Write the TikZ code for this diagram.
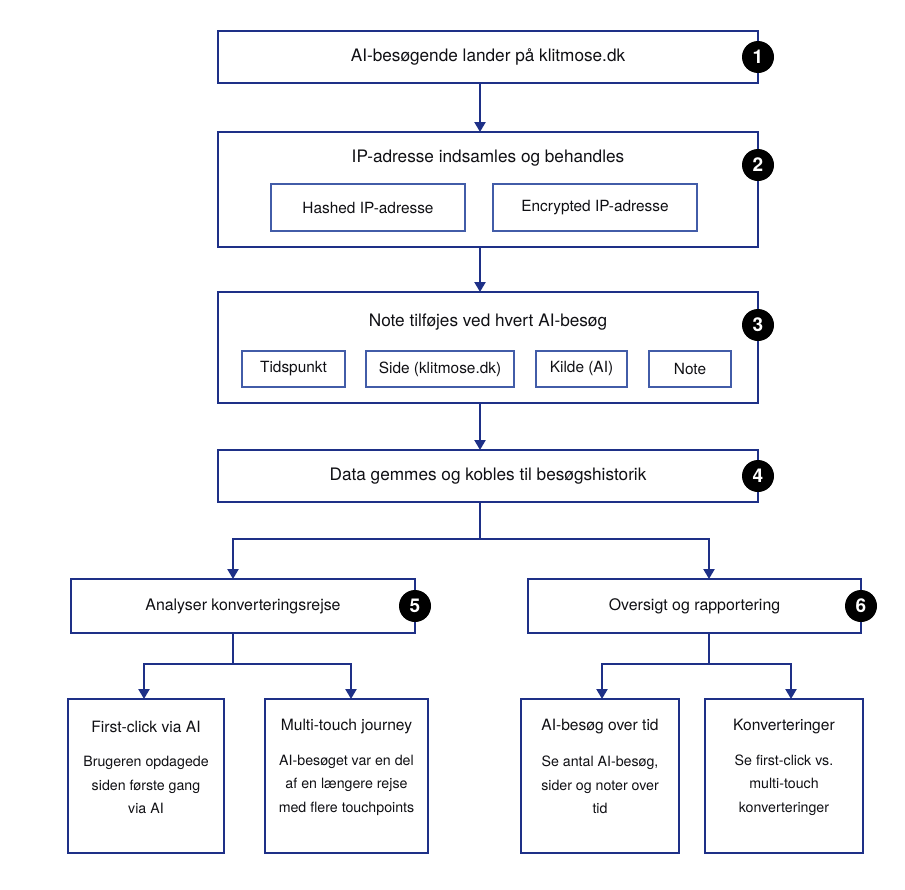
\documentclass[tikz,border=0pt]{standalone}
\usepackage{fontspec}
\setmainfont{TeX Gyre Heros}
\usepackage{xcolor}
\usetikzlibrary{positioning,arrows.meta,calc}
\definecolor{navy}{RGB}{30,48,135}
\definecolor{subnavy}{RGB}{66,92,168}
\definecolor{ink}{RGB}{16,16,20}
\tikzset{%
	block/.style    = {draw=navy, line width=2pt, rectangle, fill=white, text=ink,
		minimum width=540pt, inner sep=0pt, outer sep=0pt, font=\fontsize{17.2}{20.6}\selectfont},
	subblock/.style = {draw=subnavy, line width=1.3pt, rectangle, text=ink,
		minimum height=36pt, inner sep=0pt, outer sep=0pt, font=\fontsize{15.4}{18.5}\selectfont},
	leaf/.style     = {draw=navy, line width=2pt, rectangle, fill=white,
		minimum height=154pt, inner sep=0pt, outer sep=0pt},
	leaftitle/.style = {text=ink, font=\fontsize{15.6}{18.7}\selectfont},
	leafbody/.style  = {text=ink, align=center, font=\fontsize{14.2}{23.5}\selectfont},
	num/.style      = {circle, fill=black, text=white, minimum size=32pt, inner sep=0pt,
		font=\fontsize{19}{19}\selectfont\bfseries},
	link/.style     = {draw=navy, line width=2.3pt}
}

\begin{document}
\begin{tikzpicture}[x=1pt, y=-1pt,
          >={Triangle[length=10pt,width=11pt]}]
        \useasboundingbox (0,0) rectangle (905,889);
        \draw
            node at (488,57) [block, minimum height=52pt, name=land] {AI-besøgende lander på klitmose.dk}
            node [block, minimum height=115pt, below=49pt of land] (ip) {}
            node [block, minimum height=111pt, below=45pt of ip] (note) {}
            node [block, minimum height=52pt, below=47pt of note] (data) {Data gemmes og kobles til besøgshistorik};

            % IP-adresse
            \node [text=ink, font=\fontsize{17.2}{20.6}\selectfont] (iptitle) at ([yshift=-26pt]ip.north) {IP-adresse indsamles og behandles};
            \node [subblock, minimum width=194pt, minimum height=47pt] (hash) at ([xshift=-120pt,yshift=-18pt]ip.center) {Hashed IP-adresse};
            \node [subblock, minimum width=204pt, minimum height=47pt, right=28pt of hash] (enc) {Encrypted IP-adresse};

            % note felter
            \node [text=ink, font=\fontsize{17.2}{20.6}\selectfont] (notetitle) at ([yshift=-30pt]note.north) {Note tilføjes ved hvert AI-besøg};
            \node [subblock, minimum width=103pt] (tid) at ([xshift=-194.5pt,yshift=-21.5pt]note.center) {Tidspunkt};
            \node [subblock, minimum width=148pt, right=21pt of tid] (side) {Side (klitmose.dk)};
            \node [subblock, minimum width=91pt, right=22pt of side] (kilde) {Kilde (AI)};
            \node [subblock, minimum width=82pt, right=22pt of kilde] (notefelt) {Note};

            % analyse og oversigt
            \node [block, minimum width=344pt, minimum height=54pt, font=\fontsize{15.9}{19}\selectfont] (anal) at (243,606) {Analyser konverteringsrejse};
            \node [block, minimum width=333pt, minimum height=54pt, font=\fontsize{15.9}{19}\selectfont] (overs) at (694.5,606) {Oversigt og rapportering};

            \node [leaf, minimum width=156pt] (first) at (146,776) {};
            \node [leaf, minimum width=163pt] (multi) at (346.5,776) {};
            \node [leaf, minimum width=158pt] (tidover) at (600,776) {};
            \node [leaf, minimum width=158pt] (konv) at (784,776) {};

            \node [leaftitle] (firstt) at ([yshift=-28pt]first.north) {First-click via AI};
            \node [leaftitle] (multit) at ([yshift=-28pt]multi.north) {Multi-touch journey};
            \node [leaftitle] (tidovert) at ([yshift=-28pt]tidover.north) {AI-besøg over tid};
            \node [leaftitle] (konvt) at ([yshift=-28pt]konv.north) {Konverteringer};

            \node [leafbody] (firstb) at ([yshift=-86pt]first.north) {Brugeren opdagede\\siden første gang\\via AI};
            \node [leafbody] (multib) at ([yshift=-86pt]multi.north) {AI-besøget var en del\\af en længere rejse\\med flere touchpoints};
            \node [leafbody] (tidoverb) at ([yshift=-86pt]tidover.north) {Se antal AI-besøg,\\sider og noter over\\tid};
            \node [leafbody] (konvb) at ([yshift=-86pt]konv.north) {Se first-click vs.\\multi-touch\\konverteringer};

            \draw[link,->]([xshift=-8pt]land.south) -- ([xshift=-8pt]ip.north);
            \draw[link,->]([xshift=-8pt]ip.south) -- ([xshift=-8pt]note.north);
            \draw[link,->]([xshift=-8pt]note.south) -- ([xshift=-8pt]data.north);

            \draw[link]([xshift=-8pt]data.south) -- ++(0,37) coordinate (split);
            \draw[link,->](split) -| ([xshift=-10pt]anal.north);
            \draw[link,->](split) -| ([xshift=14.5pt]overs.north);

            \draw[link]([xshift=-10pt]anal.south) -- ++(0,31) coordinate (splitA);
            \draw[link,->](splitA) -| ([xshift=-2pt]first.north);
            \draw[link,->](splitA) -| ([xshift=4.5pt]multi.north);

            \draw[link]([xshift=14.5pt]overs.south) -- ++(0,31) coordinate (splitB);
            \draw[link,->](splitB) -| ([xshift=2pt]tidover.north);
            \draw[link,->](splitB) -| ([xshift=7pt]konv.north);

            \node [num] (n1) at (land.east) {1};
            \node [num] (n2) at ([yshift=-33pt]ip.north east) {2};
            \node [num] (n3) at ([yshift=-33pt]note.north east) {3};
            \node [num] (n4) at (data.east) {4};
            \node [num] (n5) at (anal.east) {5};
            \node [num] (n6) at (overs.east) {6};
    \end{tikzpicture}
\end{document}
